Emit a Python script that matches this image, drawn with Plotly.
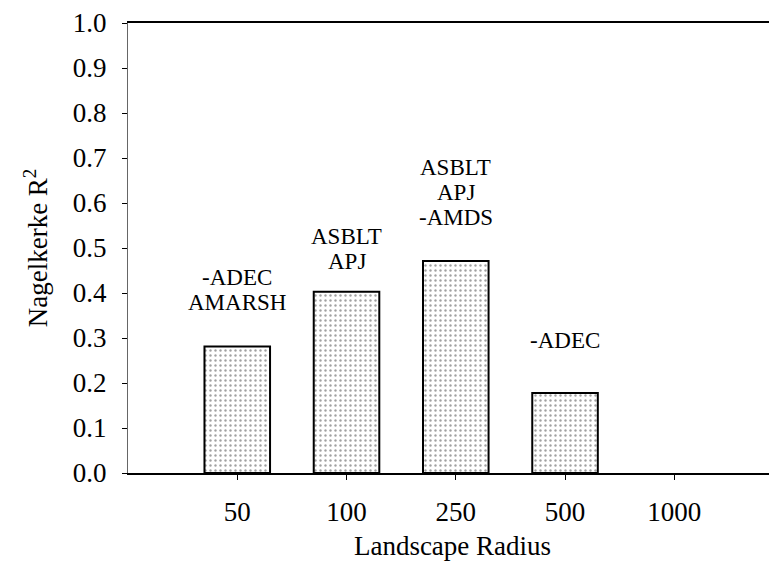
import plotly.graph_objects as go

# Data
radius = ["50", "100", "250", "500", "1000"]
r2_values = [0.281, 0.403, 0.471, 0.178, None]
bar_labels = [["-ADEC", "AMARSH"], ["ASBLT", "APJ"], ["ASBLT", "APJ", "-AMDS"], ["-ADEC"], []]
label_gap_px = [36, 22, 36, 44, 0]
y_ticks = [0.0, 0.1, 0.2, 0.3, 0.4, 0.5, 0.6, 0.7, 0.8, 0.9, 1.0]

FONT = "Liberation Serif, Times New Roman, serif"

fig = go.Figure()
fig.add_trace(go.Bar(
    x=radius,
    y=r2_values,
    width=0.6,
    marker=dict(
        color="white",
        line=dict(color="black", width=2),
        pattern=dict(shape=".", size=5, solidity=0.18, fgcolor="#444", bgcolor="white"),
    ),
    showlegend=False,
))

line_step = 25
for idx, (val, lines, gap) in enumerate(zip(r2_values, bar_labels, label_gap_px)):
    if val is None or not lines:
        continue
    n = len(lines)
    for k in range(n):
        txt = lines[n - 1 - k]
        fig.add_annotation(
            x=idx, y=val, xref="x", yref="y", text=txt, showarrow=False,
            xanchor="center", yanchor="middle",
            yshift=gap + 8 + line_step * k,
            font=dict(family=FONT, size=23, color="black"),
        )

fig.update_layout(
    width=769, height=561,
    margin=dict(l=120, r=0, t=9, b=96),
    paper_bgcolor="white", plot_bgcolor="white",
    font=dict(family=FONT, size=27, color="black"),
    bargap=0.4,
)
fig.update_xaxes(
    type="category",
    range=[-1.0, 4.94],
    showline=True, linecolor="black", linewidth=2, mirror=True,
    ticks="outside", ticklen=5, tickcolor="black", tickwidth=1,
    ticklabelstandoff=9,
    showgrid=False, zeroline=False,
    tickfont=dict(family=FONT, size=27, color="black"),
    title=dict(text="Landscape Radius", font=dict(family=FONT, size=27, color="black"), standoff=10),
)
fig.update_yaxes(
    range=[0, 1.0],
    tickvals=y_ticks,
    ticktext=[f"{v:.1f}" for v in y_ticks],
    showline=True, linecolor="#666", linewidth=1,
    ticks="outside", ticklen=5, tickcolor="black", tickwidth=1,
    ticklabelstandoff=10,
    ticklabeloverflow="allow",
    showgrid=False, zeroline=False,
    tickfont=dict(family=FONT, size=27, color="black"),
    title=dict(text="Nagelkerke R<sup>2</sup>", font=dict(family=FONT, size=27, color="black"), standoff=17),
)

fig.write_html("out.html")
